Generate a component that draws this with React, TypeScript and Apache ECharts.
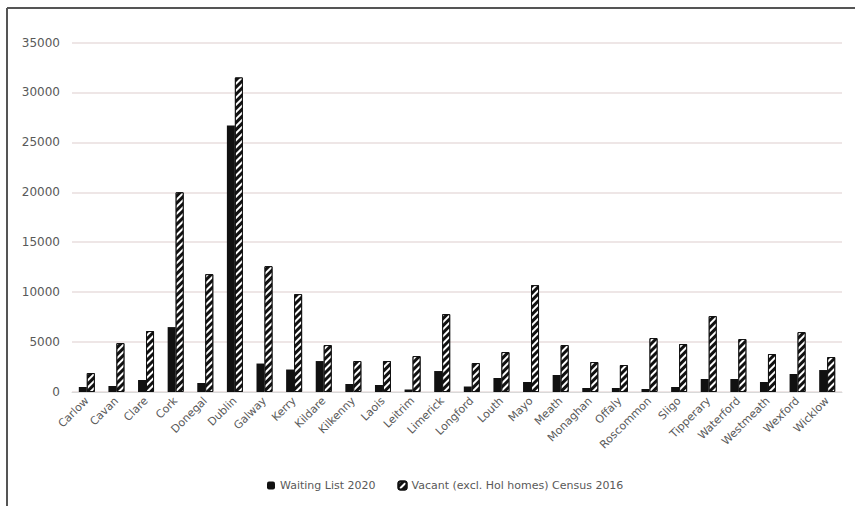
import React, { useEffect, useRef } from "react";
import * as echarts from "echarts";

const counties = [
  "Carlow", "Cavan", "Clare", "Cork", "Donegal", "Dublin", "Galway", "Kerry",
  "Kildare", "Kilkenny", "Laois", "Leitrim", "Limerick", "Longford", "Louth",
  "Mayo", "Meath", "Monaghan", "Offaly", "Roscommon", "Sligo", "Tipperary",
  "Waterford", "Westmeath", "Wexford", "Wicklow",
];

const waitingList2020 = [
  500, 600, 1200, 6500, 900, 26700, 2850, 2250,
  3100, 800, 700, 250, 2100, 550, 1400,
  1000, 1700, 400, 400, 300, 500, 1300,
  1300, 1000, 1800, 2200,
];

const vacantCensus2016 = [
  1900, 4900, 6100, 20000, 11800, 31500, 12600, 9800,
  4700, 3100, 3100, 3600, 7800, 2900, 4000,
  10700, 4700, 3000, 2700, 5400, 4800, 7600,
  5300, 3800, 6000, 3500,
];

const seriesNames = ["Waiting List 2020", "Vacant (excl. Hol homes) Census 2016"];

export default function App() {
  const ref = useRef<HTMLDivElement>(null);
  useEffect(() => {
    document.body.style.margin = "0";
    const chart = echarts.init(ref.current!, null, { renderer: "svg" });
    const textColor = "#595959";
    chart.setOption({
      animation: false,
      backgroundColor: "#ffffff",
      textStyle: { fontFamily: "DejaVu Sans" },
      grid: { left: 72, right: 13, top: 42.5, bottom: 114, containLabel: false },
      legend: {
        left: 262,
        top: 475,
        itemWidth: 8,
        itemHeight: 8,
        itemGap: 22,
        textStyle: { color: textColor, fontSize: 11, fontFamily: "DejaVu Sans" },
        data: seriesNames,
      },
      xAxis: {
        type: "category",
        data: counties,
        axisLine: { lineStyle: { color: "#d9d9d9" } },
        axisTick: { show: false },
        axisLabel: {
          rotate: 45,
          interval: 0,
          color: textColor,
          fontSize: 11,
          margin: 7,
        },
      },
      yAxis: {
        type: "value",
        min: 0,
        max: 35000,
        interval: 5000,
        axisLine: { show: false },
        axisTick: { show: false },
        axisLabel: {
          color: textColor,
          fontSize: 12,
          margin: 12,
          formatter: (v: number) => String(v),
        },
        splitLine: { lineStyle: { color: "#e8dede", width: 1.5 } },
      },
      series: [
        {
          name: seriesNames[0],
          type: "bar",
          data: waitingList2020,
          barWidth: 8,
          barGap: "0%",
          itemStyle: { color: "#111111" },
        },
        {
          name: seriesNames[1],
          type: "bar",
          data: vacantCensus2016,
          barWidth: 8,
          itemStyle: {
            color: "#111111",
            borderColor: "#111111",
            borderWidth: 1,
            decal: {
              symbol: "rect",
              color: "#ffffff",
              dashArrayX: [1, 0],
              dashArrayY: [2, 3],
              rotation: -Math.PI / 4,
              symbolSize: 1,
            },
          },
        },
      ],
      graphic: [
        {
          type: "line",
          shape: { x1: 7, y1: 8, x2: 855, y2: 8 },
          style: { stroke: "#555555", lineWidth: 2 },
        },
        {
          type: "line",
          shape: { x1: 7, y1: 8, x2: 7, y2: 506 },
          style: { stroke: "#555555", lineWidth: 2 },
        },
      ],
    });
    return () => chart.dispose();
  }, []);
  return <div ref={ref} style={{ width: 855, height: 506 }} />;
}
